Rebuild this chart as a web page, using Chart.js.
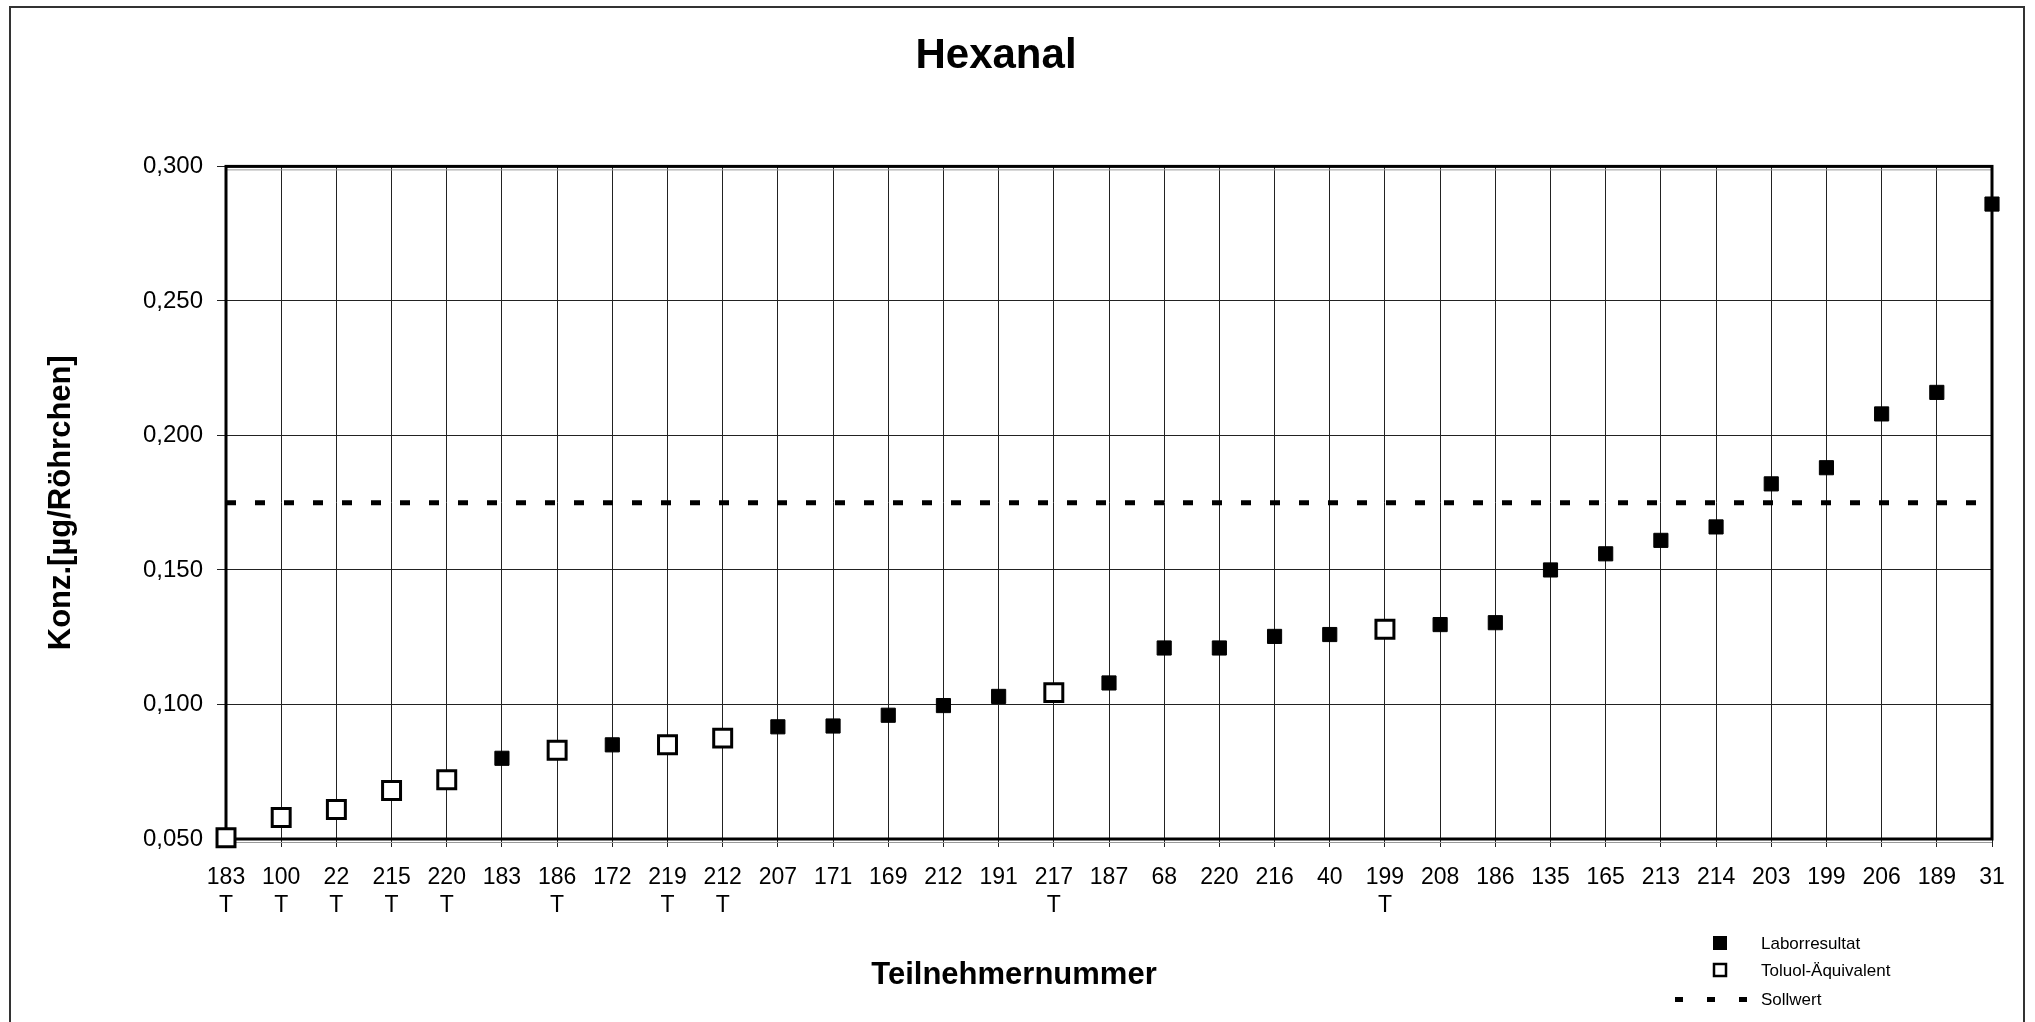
<!DOCTYPE html>
<html>
<head>
<meta charset="utf-8">
<title>Hexanal</title>
<script src="https://cdn.jsdelivr.net/npm/chart.js@4/dist/chart.umd.min.js"></script>
<style>
  html, body { margin: 0; padding: 0; background: #fff; }
  canvas { display: block; }
</style>
</head>
<body>
<canvas id="myChart" width="2035" height="1022"></canvas>
<script>
// Teilnehmer, sortiert nach Messwert
var TEILNEHMER = ['183', '100', '22', '215', '220', '183', '186', '172', '219', '212', '207',
    '171', '169', '212', '191', '217', '187', '68', '220', '216', '40', '199',
    '208', '186', '135', '165', '213', '214', '203', '199', '206', '189', '31'];

// 'T' = Toluol-Aequivalent
var KENNUNG = ['T', 'T', 'T', 'T', 'T', '', 'T', '', 'T', 'T', '',
    '', '', '', '', 'T', '', '', '', '', '', 'T',
    '', '', '', '', '', '', '', '', '', '', ''];

// Konz. [µg/Röhrchen]
var MESSWERTE = [0.0505, 0.058, 0.061, 0.068, 0.072, 0.080, 0.083, 0.085, 0.085, 0.0875, 0.0917,
    0.092, 0.096, 0.0996, 0.103, 0.1044, 0.108, 0.121, 0.121, 0.1253, 0.126, 0.128,
    0.1297, 0.1304, 0.150, 0.156, 0.161, 0.166, 0.182, 0.188, 0.208, 0.216, 0.286];

var SOLLWERT = 0.175;

var Y_TICKS = [0.05, 0.10, 0.15, 0.20, 0.25, 0.30];

Chart.defaults.font.family = "'Liberation Sans', Arial, sans-serif";
Chart.defaults.color = '#000';

var labels = TEILNEHMER.map(function(t, i) {
    return KENNUNG[i] ? [t, KENNUNG[i]] : t;
});
var labor = MESSWERTE.map(function(v, i) { return KENNUNG[i] ? null : v; });
var toluol = MESSWERTE.map(function(v, i) { return KENNUNG[i] ? v : null; });
var soll = TEILNEHMER.map(function() { return SOLLWERT; });

// Rahmen, Achsentitel und Legende
var rahmen = {
    id: 'rahmen',
    beforeDatasetsDraw: function(chart) {
        var a = chart.chartArea, ctx = chart.ctx;
        ctx.save();
        ctx.strokeStyle = '#999';
        ctx.lineWidth = 1;
        ctx.beginPath();
        ctx.moveTo(a.left, a.top + 3.5); ctx.lineTo(a.right, a.top + 3.5);
        ctx.moveTo(a.left, a.bottom + 3.5); ctx.lineTo(a.right, a.bottom + 3.5);
        ctx.stroke();
        ctx.strokeStyle = '#000';
        ctx.lineWidth = 3;
        ctx.strokeRect(a.left, a.top, a.right - a.left, a.bottom - a.top);
        ctx.restore();
    },
    afterDraw: function(chart) {
        var ctx = chart.ctx;
        ctx.save();
        // aeusserer Rahmen
        ctx.strokeStyle = '#333';
        ctx.lineWidth = 2;
        ctx.strokeRect(10, 7, 2014, 1030);

        // x-Achsentitel
        ctx.fillStyle = '#000';
        ctx.font = "bold 31px 'Liberation Sans', Arial, sans-serif";
        ctx.textAlign = 'center';
        ctx.textBaseline = 'middle';
        ctx.fillText('Teilnehmernummer', 1014, 975);

        // Legende
        var ds = chart.data.datasets;
        var mx = 1720, tx = 1761, ys = [943, 970, 999];
        ctx.font = "17px 'Liberation Sans', Arial, sans-serif";
        ctx.textAlign = 'left';
        ctx.fillStyle = ds[0].backgroundColor;
        ctx.fillRect(mx - 7, ys[0] - 7, 14, 14);
        ctx.strokeStyle = ds[1].borderColor;
        ctx.lineWidth = 2.5;
        ctx.strokeRect(mx - 6, ys[1] - 6, 12, 12);
        ctx.fillStyle = ds[2].borderColor;
        [1675, 1707, 1739].forEach(function(x) { ctx.fillRect(x, ys[2] - 2, 8, 5); });
        ctx.fillStyle = '#000';
        ds.forEach(function(d, i) { ctx.fillText(d.label, tx, ys[i] + 1); });
        ctx.restore();
    }
};

var ctx = document.getElementById('myChart').getContext('2d');
var chart = new Chart(ctx, {
    type: 'line',
    data: {
        labels: labels,
        datasets: [{
            label: 'Laborresultat',
            data: labor,
            showLine: false,
            pointStyle: 'rect',
            pointRadius: 10,
            backgroundColor: '#000',
            borderColor: '#000',
            borderWidth: 1,
            clip: false,
            order: 1
        }, {
            label: 'Toluol-Äquivalent',
            data: toluol,
            showLine: false,
            pointStyle: 'rect',
            pointRadius: 12.7,
            pointBorderWidth: 3,
            backgroundColor: '#fff',
            borderColor: '#000',
            clip: false,
            order: 2
        }, {
            label: 'Sollwert',
            data: soll,
            borderColor: '#000',
            borderWidth: 5,
            borderDash: [10, 19],
            pointRadius: 0,
            fill: false,
            order: 3
        }]
    },
    options: {
        responsive: false,
        animation: false,
        layout: { padding: { left: 0, right: 43, top: 0, bottom: 0 } },
        plugins: {
            legend: { display: false },
            tooltip: { enabled: false },
            title: {
                display: true,
                text: 'Hexanal',
                color: '#000',
                font: { size: 42, weight: 'bold' },
                padding: { top: 31, bottom: 85 }
            }
        },
        scales: {
            x: {
                type: 'category',
                offset: false,
                grid: { color: '#222', lineWidth: 1, tickLength: 8, tickColor: '#222' },
                border: { display: false },
                ticks: {
                    autoSkip: false,
                    maxRotation: 0,
                    padding: 16,
                    color: '#000',
                    font: { size: 23, lineHeight: 1.25 }
                },
                afterFit: function(scale) { scale.height = 183; }
            },
            y: {
                min: 0.05,
                max: 0.30,
                afterBuildTicks: function(scale) {
                    scale.ticks = Y_TICKS.map(function(v) { return { value: v }; });
                },
                grid: { color: '#222', lineWidth: 1, tickLength: 9, tickColor: '#222' },
                border: { display: false },
                ticks: {
                    padding: 14,
                    color: '#000',
                    font: { size: 24 },
                    callback: function(v) { return v.toFixed(3).replace('.', ','); }
                },
                title: {
                    display: true,
                    text: 'Konz.[µg/Röhrchen]',
                    color: '#000',
                    font: { size: 31, weight: 'bold' },
                    padding: { top: 43, bottom: 0 }
                },
                afterFit: function(scale) { scale.width = 226; }
            }
        }
    },
    plugins: [rahmen]
});
</script>
</body>
</html>
